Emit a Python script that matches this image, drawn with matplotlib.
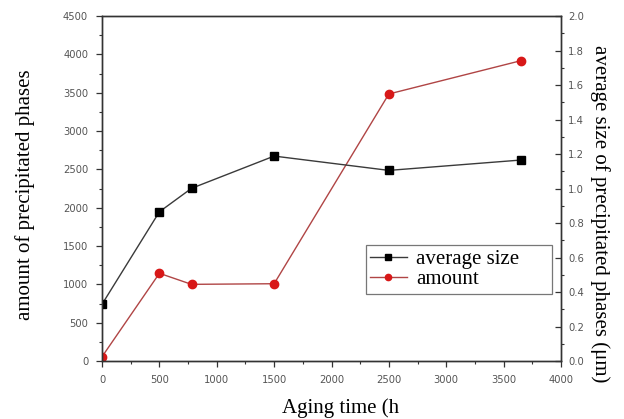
import matplotlib
matplotlib.use("Agg")
import matplotlib.pyplot as plt
from matplotlib.ticker import MultipleLocator, FormatStrFormatter

# Data
aging_time = [0, 500, 780, 1500, 2500, 3650]
avg_size_um = [0.329, 0.865, 1.001, 1.188, 1.105, 1.165]
amount = [56, 1144, 1000, 1008, 3483, 3917]

fig = plt.figure(figsize=(6.24, 4.19), dpi=100)
ax = fig.add_axes([0.1635, 0.1384, 0.7355, 0.8234])
ax2 = ax.twinx()

tick_family = "DejaVu Sans"
tick_size = 7.2
tick_color = "#555555"
serif = "Liberation Serif"

l1, = ax2.plot(aging_time, avg_size_um, color="#3a3a3a", lw=1.0, marker="s",
               markersize=5.5, markerfacecolor="black", markeredgecolor="black",
               label="average size")
l2, = ax.plot(aging_time, amount, color="#b04545", lw=1.0, marker="o",
              markersize=6, markerfacecolor="#d81818", markeredgecolor="#d81818",
              label="amount")

ax.set_xlim(0, 4000)
ax.set_ylim(0, 4500)
ax2.set_ylim(0, 2.0)

ax.xaxis.set_major_locator(MultipleLocator(500))
ax.xaxis.set_minor_locator(MultipleLocator(250))
ax.yaxis.set_major_locator(MultipleLocator(500))
ax.yaxis.set_minor_locator(MultipleLocator(250))
ax2.yaxis.set_major_locator(MultipleLocator(0.2))
ax2.yaxis.set_minor_locator(MultipleLocator(0.1))

ax.tick_params(which="major", direction="out", length=4, width=0.9, color="#333333",
               labelsize=tick_size, labelcolor=tick_color)
ax.tick_params(axis="x", which="major", pad=6)
ax.tick_params(axis="y", which="major", pad=6)
ax.tick_params(which="minor", direction="out", length=2.5, width=0.8, color="#333333")
ax2.tick_params(which="major", direction="in", length=4, width=0.9, color="#333333",
                labelsize=tick_size, labelcolor=tick_color, pad=5)
ax2.tick_params(which="minor", direction="out", length=2.5, width=0.8, color="#333333")

ax2.yaxis.set_major_formatter(FormatStrFormatter("%.1f"))

for a in (ax, ax2):
    for lab in a.get_xticklabels() + a.get_yticklabels():
        lab.set_family(tick_family)
    for s in a.spines.values():
        s.set_linewidth(1.0)
        s.set_color("#333333")

ax.set_xlabel("Aging time (h", family=serif, fontsize=15, va="center")
ax.xaxis.set_label_coords(0.52, -0.136)
ax.set_ylabel("amount of precipitated phases", family=serif, fontsize=15,
              va="center", ha="center")
ax.yaxis.set_label_coords(-0.168, 0.481)
ax2.set_ylabel("average size of precipitated phases (\u03bcm)", family=serif,
               fontsize=15, rotation=270, va="center", ha="center")
ax2.yaxis.set_label_coords(1.085, 0.426)

leg = ax.legend(handles=[l1, l2], loc="upper left",
                bbox_to_anchor=(0.575, 0.0, 0.405, 0.336), mode="expand",
                borderaxespad=0,
                prop=dict(family=serif, size=15), frameon=True,
                fancybox=False, edgecolor="#555555", handlelength=1.75,
                borderpad=0.2, labelspacing=0.05, handletextpad=0.45, markerscale=0.75)
leg.get_frame().set_linewidth(0.9)

fig.savefig("out.png", dpi=100)
